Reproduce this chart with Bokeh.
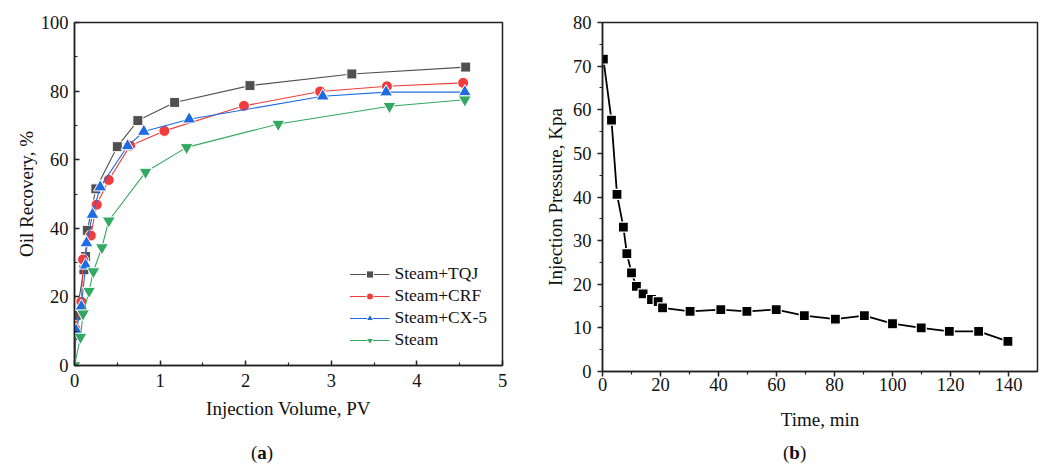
from bokeh.plotting import figure
from bokeh.layouts import row, column
from bokeh.models import Range1d, Legend, LegendItem, FixedTicker, Div
from bokeh.embed import file_html
from bokeh.resources import INLINE

# (a) oil recovery vs injected pore volumes
tqj_pv = [0, 0.005, 0.02, 0.11, 0.13, 0.15, 0.25, 0.50, 0.74, 1.17, 2.05, 3.24, 4.57]
tqj_rec = [0, 8.7, 14.6, 27.9, 31.8, 39.4, 51.5, 63.8, 71.4, 76.7, 81.6, 85.0, 87.0]

crf_pv = [0, 0.01, 0.08, 0.10, 0.19, 0.26, 0.40, 0.65, 1.05, 1.98, 2.87, 3.65, 4.54]
crf_rec = [0, 10.7, 18.6, 30.9, 37.9, 46.9, 54.1, 64.1, 68.4, 75.7, 79.9, 81.4, 82.4]

cx5_pv = [0, 0.02, 0.08, 0.13, 0.14, 0.21, 0.30, 0.62, 0.81, 1.34, 2.90, 3.64, 4.56]
cx5_rec = [0, 10.2, 17.2, 29.2, 35.7, 44.0, 52.0, 64.0, 68.2, 71.8, 78.5, 79.7, 79.7]

steam_pv = [0, 0.07, 0.10, 0.17, 0.22, 0.32, 0.40, 0.83, 1.31, 2.38, 3.68, 4.56]
steam_rec = [0, 8.3, 15.1, 21.7, 27.4, 34.4, 42.2, 56.4, 63.6, 70.4, 75.6, 77.5]

series_names = ["Steam+TQJ", "Steam+CRF", "Steam+CX-5", "Steam"]

# (b) injection pressure over time
time_min = [0.3, 3.1, 5.0, 7.2, 8.4, 10.0, 11.7, 14.0, 16.9, 19.2, 20.7, 30.2, 40.8, 49.8,
            59.9, 69.6, 80.3, 90.3, 100.0, 109.9, 119.6, 129.7, 139.8]
pressure_kpa = [71.6, 57.6, 40.6, 33.1, 27.0, 22.6, 19.5, 17.8, 16.5, 16.0, 14.6, 13.8, 14.2, 13.8,
                14.2, 12.8, 12.0, 12.8, 10.95, 10.0, 9.2, 9.2, 6.9]

SERIF = "Liberation Serif"


def style_axes(p, inward):
    for ax in (p.xaxis[0], p.yaxis[0]):
        ax.axis_line_width = 1.5
        ax.axis_line_color = "#222222"
        ax.major_tick_line_width = 1.5
        ax.minor_tick_line_width = 1.2
        ax.major_tick_line_color = "#222222"
        ax.minor_tick_line_color = "#222222"
        if inward:
            ax.major_tick_in, ax.major_tick_out = 5, 0
            ax.minor_tick_in, ax.minor_tick_out = 3, 0
        else:
            ax.major_tick_in, ax.major_tick_out = 0, 5
            ax.minor_tick_in, ax.minor_tick_out = 0, 3
        ax.major_label_text_font = SERIF
        ax.major_label_text_font_size = "18.5px"
        ax.major_label_text_color = "#111111"
        ax.axis_label_text_font = SERIF
        ax.axis_label_text_font_size = "19px"
        ax.axis_label_text_font_style = "normal"
        ax.axis_label_text_color = "#111111"
    p.xgrid.visible = False
    p.ygrid.visible = False
    p.outline_line_color = "#222222"
    p.outline_line_width = 1.5
    p.outline_line_alpha = 1.0


def caption(letter, width, left_pad):
    html = ('<div style="padding-left:%dpx;padding-top:8px;font-family:\'Liberation Serif\';'
            'font-size:19px;line-height:19px;color:#111111;white-space:nowrap">(<b>%s</b>)</div>'
            % (left_pad, letter))
    return Div(text=html, width=width, height=31, margin=(0, 0, 0, 0))


# ---- left panel ----
pa = figure(frame_width=428, frame_height=343, min_border_left=74, min_border_right=28,
            min_border_top=22, min_border_bottom=70,
            x_range=Range1d(0, 5), y_range=Range1d(0, 100),
            output_backend="svg", toolbar_location=None)
style_axes(pa, inward=True)
pa.xaxis.ticker = FixedTicker(ticks=[0, 1, 2, 3, 4, 5], minor_ticks=[0.5, 1.5, 2.5, 3.5, 4.5])
pa.yaxis.ticker = FixedTicker(ticks=[0, 20, 40, 60, 80, 100], minor_ticks=[10, 30, 50, 70, 90])
pa.xaxis.axis_label = "Injection Volume, PV"
pa.yaxis.axis_label = "Oil Recovery, %"
pa.xaxis.major_label_standoff = 8
pa.xaxis.axis_label_standoff = 8
pa.yaxis.major_label_standoff = 6
pa.yaxis.axis_label_standoff = 1

colors = ["#505050", "#f03c3c", "#1f6ce0", "#33a860"]
data = [(tqj_pv, tqj_rec, "square", 10), (crf_pv, crf_rec, "circle", 11),
        (cx5_pv, cx5_rec, "triangle", 13), (steam_pv, steam_rec, "inverted_triangle", 13)]
items = []
for (xs, ys, marker, size), col, name in zip(data, colors, series_names):
    ln = pa.line(xs, ys, line_color=col, line_width=1.1)
    sc = pa.scatter(xs, ys, marker=marker, size=size, fill_color=col,
                    line_color="white", line_width=1.0)
    items.append(LegendItem(label=name, renderers=[ln, sc]))

leg = Legend(items=items, location="bottom_right")
leg.border_line_color = None
leg.background_fill_alpha = 0
leg.label_text_font = SERIF
leg.label_text_font_size = "17.5px"
leg.label_text_color = "#111111"
leg.glyph_width = 40
leg.glyph_height = 18
leg.spacing = 1
leg.label_standoff = 5
leg.margin = 15
leg.padding = 3
pa.add_layout(leg)

# ---- right panel ----
pb = figure(frame_width=435, frame_height=349, min_border_left=72, min_border_right=10,
            min_border_top=17, min_border_bottom=69,
            x_range=Range1d(0, 150), y_range=Range1d(0, 80),
            output_backend="svg", toolbar_location=None)
style_axes(pb, inward=False)
pb.xaxis.ticker = FixedTicker(ticks=list(range(0, 160, 20)), minor_ticks=list(range(10, 150, 20)))
pb.yaxis.ticker = FixedTicker(ticks=list(range(0, 90, 10)), minor_ticks=list(range(5, 80, 10)))
pb.xaxis.axis_label = "Time, min"
pb.yaxis.axis_label = "Injection Pressure, Kpa"
pb.xaxis.major_label_standoff = 1
pb.xaxis.axis_label_standoff = 15
pb.yaxis.major_label_standoff = 6
pb.yaxis.axis_label_standoff = 4
pb.line(time_min, pressure_kpa, line_color="black", line_width=1.8)
pb.scatter(time_min, pressure_kpa, marker="square", size=10, fill_color="black",
           line_color="white", line_width=1.2)

layout = column(row(pa, pb), row(caption("a", 530, 251), caption("b", 517, 253)))
open("out.html", "w").write(file_html(layout, INLINE))
